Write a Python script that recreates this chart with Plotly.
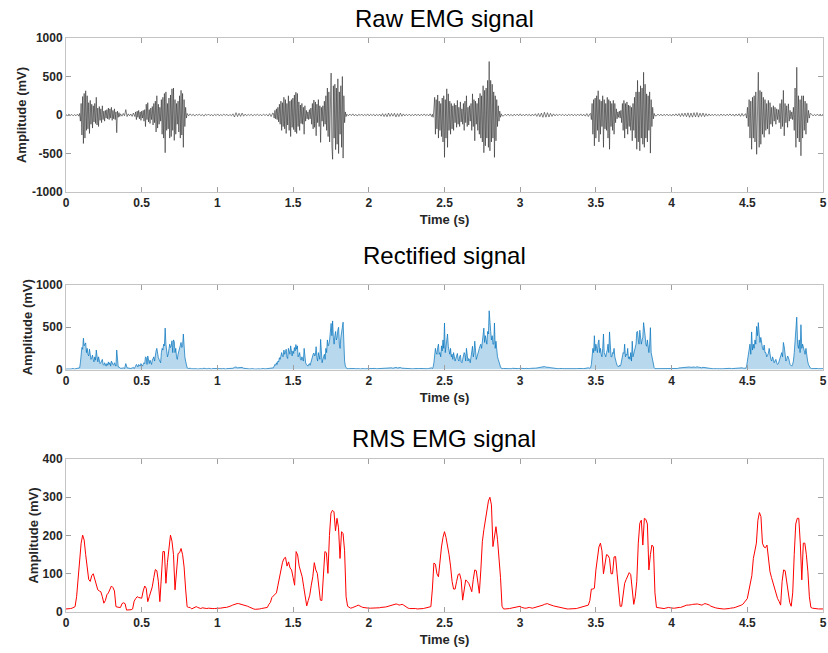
import numpy as np
import plotly.graph_objects as go

# ---------------- data ----------------
# Raw EMG (mV): quiet stretches and bursts, each with [start, end] time in s
raw_q1 = [5, -8, 10, -6, 8, -12, 6, -10, 12, -15]
raw_b1 = [20, -80, 150, -260, 240, -370, 280, -300, 315, -200, 250, -180, 160, -240, 190,
          -120, 140, -170, 120, -90, 150, -110, 230, -130, 90, -150, 110, -70, 80, -100, 120,
          -60, 50, -80, 60, -40, 70, -50, 90, -60, 80, -40, 100, -70, 60, -50, 80, -60, 40,
          -230, 50, -30, 30, -20, 15]
raw_q2 = [-15, 20, -10, 70, -20, 15, -10, 12, -18, 25]
raw_b2 = [10, -20, 40, -60, 50, -30, 60, -50, 40, -70, 50, -40, 60, -80, 70, -150, 140, -60,
          160, -90, 70, -110, 90, -60, 110, -130, 150, -100, 180, -220, 250, -170, 140, -120,
          100, -80, 200, -250, 230, -300, 280, -490, 300, -200, 150, -180, 220, -300, 260,
          -280, 340, -200, 350, -330, 200, -250, 150, -120, 180, -220, 250, -300, 320, -260,
          280, -420, 200, -150, 100, -40, 20]
raw_q3 = [-12, 15, -8, 10, -14, 9, -6, 12, -10, 8, -15, 11, -7, 13, -9, 6, -12, 10, -8, 14,
          -11, 7, -9, 12, -6, 10, -13, 8, -10, 15, -25, 30, -20, 22, -18, 25, -15, 12, -10, 8,
          -6, 10, -12, 7, -5, 9, -8, 6, -10, 12, -7, 9, -14, 18, -20, 25]
raw_b3 = [20, -40, 60, -50, 80, -60, 100, -90, 140, -120, 180, -200, 160, -150, 230, -180,
          200, -240, 150, -130, 250, -200, 180, -280, 200, -160, 220, -190, 260, -220, 295,
          -240, 280, -150, 170, -200, 130, -110, 150, -120, 100, -250, 120, -80, 60, -50, 40,
          -60, 70, -50, 90, -120, 150, -180, 195, -160, 170, -270, 140, -100, 200, -150, 120,
          -356, 100, -80, 120, -150, 180, -120, 250, -200, 350, -280, 300, -350, 420, 545,
          -400, -575, 380, -300, 400, -450, 350, -380, 470, -500, 300, -250, 380, -420, 500,
          -560, 250, -100, 40, -20, 10]
raw_q4 = [-10, 12, -8, 15, -12, 9, -14, 10, -7, 13, -11, 8, -9, 14, -12, 10, -8, 11, -13, 9,
          -10, 12, -15, 18, -20, 16, -22, 25, -18, 20, -15, 22, -25, 18, -20, 24, -16, 14,
          -12, 10, -9, 12, -11, 8, -10, 13, -9, 11, -12, 10, -8, 14, -10, 9, -12, 15, -20]
raw_b4 = [10, -30, 80, 230, -250, 200, -180, 260, -300, 180, -200, 150, -280, 220, -350, 250,
          -550, 200, -300, 340, -420, 275, -200, 180, -250, 150, -180, 120, -200, 150, -100,
          130, -160, 190, -120, 100, -150, 170, -90, 80, -120, 150, -200, 180, -100, 250,
          -150, 100, -130, 120, -80, 150, -200, 275, -150, 200, -335, 180, -120, 150, -200,
          220, -250, 280, -300, 250, -350, 380, -490, 320, -400, 350, -300, 450, -420, 695,
          -465, 450, -350, 400, -300, 300, -550, 250, -335, 200, -150, 120, -80, 50, -30, 15,
          -10]
raw_q5 = [-12, 10, -8, 13, -10, 9, -14, 11, -8, 12, -10, 15, -12, 9, -11, 13, -9, 10, -14, 12,
          -10, 16, -18, 20, -22, 25, -30, 35, -28, 30, -25, 22, -18, 15, -12, 10, -9, 12, -8,
          11, -10, 9, -12, 10, -8, 13, -11, 9, -10, 12, -9, 14, -12, 10, -15, 18, -20, 15]
raw_b5 = [20, -60, 150, -250, 200, -400, 220, -300, 250, -200, 315, -350, 200, -250, 180,
          -150, 250, -420, 200, -180, 150, -200, 230, -300, 200, -445, 180, -150, 150, -200,
          190, -250, 150, -100, 80, -50, 40, -30, 50, -40, 60, -100, 150, -200, 190, -300,
          150, -180, 170, -250, 130, -150, 120, -200, 100, -335, 150, -200, 230, -300, 300,
          -445, 450, -350, 300, -465, 380, -300, 350, -380, 555, -420, 400, -300, 275, -350,
          250, -200, 300, -495, 200, -150, 100, -50, 20, -10]
raw_q6 = [-10, 12, -9, 11, -13, 10, -8, 12, -11, 9, -14, 12, -10, 15, -12, 18, -20, 22, -18,
          25, -22, 28, -30, 25, -28, 30, -25, 32, -28, 24, -20, 26, -22, 18, -15, 14, -12, 10,
          -9, 12, -10, 8, -11, 13, -9, 10, -12, 11, -8, 14, -10, 12, -15, 13, -11, 16, -18, 20,
          -15, 12]
raw_b6 = [15, -40, 100, -150, 200, -300, 180, -445, 230, -300, 250, -350, 300, -510, 400, 555,
          -420, 320, -380, 300, -250, 230, -290, 200, -200, 150, -180, 190, -250, 160, -120,
          100, -150, 120, -80, 100, -120, 80, -60, 70, -100, 150, -180, 200, -150, 320, -270,
          150, -100, 120, -160, 145, -80, 60, -50, 40, -60, 100, -200, 350, -420, 620, -300,
          250, -350, 200, -530, 250, -300, 250, -200, 180, -250, 150, -100, 60, -40, 20]
raw_q7 = [10, -12, 8, -10, 12, -9, 11, -8, 10]

raw_segments = [
    (0.000, 0.085, raw_q1), (0.090, 0.360, raw_b1), (0.370, 0.445, raw_q2),
    (0.450, 0.800, raw_b2), (0.810, 1.365, raw_q3), (1.370, 1.855, raw_b3),
    (1.865, 2.415, raw_q4), (2.420, 2.880, raw_b4), (2.890, 3.460, raw_q5),
    (3.465, 3.890, raw_b5), (3.900, 4.485, raw_q6), (4.490, 4.915, raw_b6),
    (4.925, 5.000, raw_q7),
]

# RMS EMG (mV), one value every 0.01 s from 0 to 5 s
rms_step = 0.01
rms_values = [
    8, 8, 8, 9, 10, 11, 14, 40, 95, 150,            # 0.0
    180, 201, 188, 150, 110, 85, 80, 95, 100, 88,   # 0.1
    75, 58, 55, 53, 40, 23, 30, 45, 50, 60,         # 0.2
    68, 64, 55, 14, 12, 12, 12, 22, 24, 22,         # 0.3
    5, 5, 5, 6, 8, 28, 35, 40, 38, 36,              # 0.4
    36, 55, 68, 62, 27, 40, 55, 66, 90, 111,        # 0.5
    108, 80, 27, 100, 158, 158, 75, 130, 175, 201,  # 0.6
    185, 150, 58, 120, 153, 155, 166, 150, 118, 60, # 0.7
    14, 12, 12, 8, 10, 12, 14, 12, 10, 9,           # 0.8
    11, 10, 10, 9, 10, 9, 8, 9, 9, 10,              # 0.9
    10, 10, 10, 11, 12, 12, 12, 13, 15, 16,         # 1.0
    18, 20, 22, 22, 22, 21, 20, 19, 18, 16,         # 1.1
    15, 13, 12, 10, 8, 7, 7, 7, 8, 9,               # 1.2
    10, 11, 12, 12, 20, 25, 38, 42, 44, 50,         # 1.3
    70, 90, 118, 130, 140, 143, 120, 131, 115, 110, # 1.4
    90, 70, 158, 149, 120, 105, 92, 66, 40, 16,     # 1.5
    30, 44, 70, 92, 129, 110, 101, 58, 31, 30,      # 1.6
    100, 158, 155, 101, 200, 258, 266, 262, 212, 245,  # 1.7
    220, 140, 210, 205, 160, 40, 15, 12, 10, 11,    # 1.8
    12, 14, 16, 18, 17, 14, 12, 11, 10, 10,         # 1.9
    10, 10, 10, 10, 11, 10, 10, 11, 12, 12,         # 2.0
    12, 13, 14, 15, 16, 18, 20, 20, 21, 20,         # 2.1
    18, 19, 20, 18, 15, 12, 10, 9, 9, 10,           # 2.2
    10, 9, 8, 8, 8, 8, 9, 10, 11, 12,               # 2.3
    12, 14, 60, 128, 125, 100, 92, 140, 170, 195,   # 2.4
    210, 195, 175, 150, 120, 80, 60, 60, 80, 98,    # 2.5
    100, 84, 31, 60, 84, 80, 75, 65, 53, 85,        # 2.6
    110, 108, 80, 49, 110, 184, 215, 240, 254, 290, # 2.7
    300, 280, 171, 200, 223, 190, 140, 90, 15, 8,   # 2.8
    8, 8, 8, 9, 10, 11, 12, 13, 14, 14,             # 2.9
    15, 12, 10, 10, 10, 11, 12, 11, 10, 11,         # 3.0
    12, 13, 14, 15, 16, 18, 20, 21, 22, 20,         # 3.1
    18, 17, 16, 15, 14, 13, 12, 11, 10, 9,          # 3.2
    8, 8, 8, 8, 8, 8, 9, 9, 10, 11,                 # 3.3
    12, 13, 14, 15, 16, 18, 30, 60, 60, 62,         # 3.4
    110, 140, 170, 180, 160, 100, 120, 150, 148, 140,  # 3.5
    100, 100, 144, 145, 100, 60, 15, 15, 45, 75,    # 3.6
    85, 95, 103, 98, 60, 20, 40, 80, 180, 232,      # 3.7
    240, 175, 245, 242, 230, 110, 150, 175, 170, 50,   # 3.8
    12, 11, 10, 9, 8, 9, 10, 11, 12, 11,            # 3.9
    10, 10, 10, 11, 12, 12, 12, 14, 15, 16,         # 4.0
    18, 18, 18, 19, 20, 21, 22, 21, 20, 19,         # 4.1
    18, 20, 22, 21, 20, 18, 15, 13, 12, 11,         # 4.2
    10, 9, 8, 8, 8, 8, 8, 9, 9, 10,                 # 4.3
    10, 11, 12, 13, 14, 16, 18, 20, 25, 28,         # 4.4
    35, 55, 80, 95, 140, 160, 180, 240, 260, 250,   # 4.5
    180, 170, 168, 175, 130, 105, 90, 75, 60, 50,   # 4.6
    35, 28, 18, 80, 110, 108, 80, 58, 25, 15,       # 4.7
    50, 150, 230, 245, 245, 180, 84, 180, 180, 150, # 4.8
    106, 40, 12, 10, 9, 9, 8, 8, 8, 8,              # 4.9
    8,                                              # 5.0
]

x_ticks = [0, 0.5, 1, 1.5, 2, 2.5, 3, 3.5, 4, 4.5, 5]
x_tick_labels = ["0", "0.5", "1", "1.5", "2", "2.5", "3", "3.5", "4", "4.5", "5"]
raw_y_ticks = [-1000, -500, 0, 500, 1000]
rect_y_ticks = [0, 500, 1000]
rms_y_ticks = [0, 100, 200, 300, 400]
titles = ["Raw EMG signal", "Rectified signal", "RMS EMG signal"]

# ---------------- build series ----------------
raw_t, raw_v = [], []
for t0, t1, vals in raw_segments:
    raw_t.extend(np.linspace(t0, t1, len(vals)).tolist())
    raw_v.extend(vals)
raw_t = np.array(raw_t)
raw_v = np.array(raw_v, dtype=float)
rect_v = np.abs(raw_v)
rms_t = np.arange(len(rms_values)) * rms_step

FONT = "Liberation Sans, Arial, Helvetica, sans-serif"
W, H = 828, 653

fig = go.Figure()
fig.add_trace(go.Scatter(x=raw_t, y=raw_v, mode="lines", line=dict(color="#1e1e1e", width=0.55),
                         xaxis="x", yaxis="y", showlegend=False))
fig.add_trace(go.Scatter(x=raw_t, y=rect_v, mode="lines", line=dict(color="#0072BD", width=0.7),
                         fill="tozeroy", fillcolor="rgba(0,114,189,0.28)",
                         xaxis="x2", yaxis="y2", showlegend=False))
fig.add_trace(go.Scatter(x=rms_t, y=rms_values, mode="lines", line=dict(color="#FF0000", width=1.0),
                         xaxis="x3", yaxis="y3", showlegend=False))

x_dom = [66 / W, 823 / W]
# pixel tops/bottoms of the three boxes
boxes = [(38, 192), (285, 369.5), (459, 612)]
y_doms = [[1 - b / H, 1 - t / H] for t, b in boxes]

tickfont = dict(family=FONT, size=12, color="#262626", weight="bold")
titlefont = dict(family=FONT, size=13, color="#262626", weight="bold")
common = dict(showline=True, linecolor="#c4c4c4", linewidth=1, mirror="ticks", ticks="inside",
              ticklen=5, tickcolor="#a0a0a0", showgrid=False, zeroline=False,
              tickfont=tickfont, automargin=False, fixedrange=True)

layout = dict(width=W, height=H, margin=dict(l=0, r=0, t=0, b=0),
              paper_bgcolor="white", plot_bgcolor="white", showlegend=False)

y_ranges = [[-1000, 1000], [0, 1000], [0, 400]]
y_ticks = [raw_y_ticks, rect_y_ticks, rms_y_ticks]
y_standoff = [2, 0, 1]
for i in range(3):
    sx = "xaxis" if i == 0 else f"xaxis{i+1}"
    sy = "yaxis" if i == 0 else f"yaxis{i+1}"
    anchor_x = "y" if i == 0 else f"y{i+1}"
    anchor_y = "x" if i == 0 else f"x{i+1}"
    layout[sx] = dict(common, domain=x_dom, anchor=anchor_x, range=[0, 5],
                      tickvals=x_ticks, ticktext=x_tick_labels,
                      title=dict(text="Time (s)", font=titlefont, standoff=5))
    layout[sy] = dict(common, domain=y_doms[i], anchor=anchor_y, range=y_ranges[i],
                      tickvals=y_ticks[i], ticktext=[str(v) for v in y_ticks[i]],
                      title=dict(text="Amplitude (mV)", font=titlefont, standoff=y_standoff[i]))

fig.update_layout(**layout)

title_y = [18, 255, 438]
for txt, ty in zip(titles, title_y):
    fig.add_annotation(text=txt, x=(x_dom[0] + x_dom[1]) / 2, y=1 - ty / H, xref="paper", yref="paper",
                       showarrow=False, xanchor="center", yanchor="middle",
                       font=dict(family=FONT, size=24, color="black"))

fig.write_html("out.html", config={"displayModeBar": False},
               post_script="document.body.style.margin='0';document.body.style.overflow='hidden';")
